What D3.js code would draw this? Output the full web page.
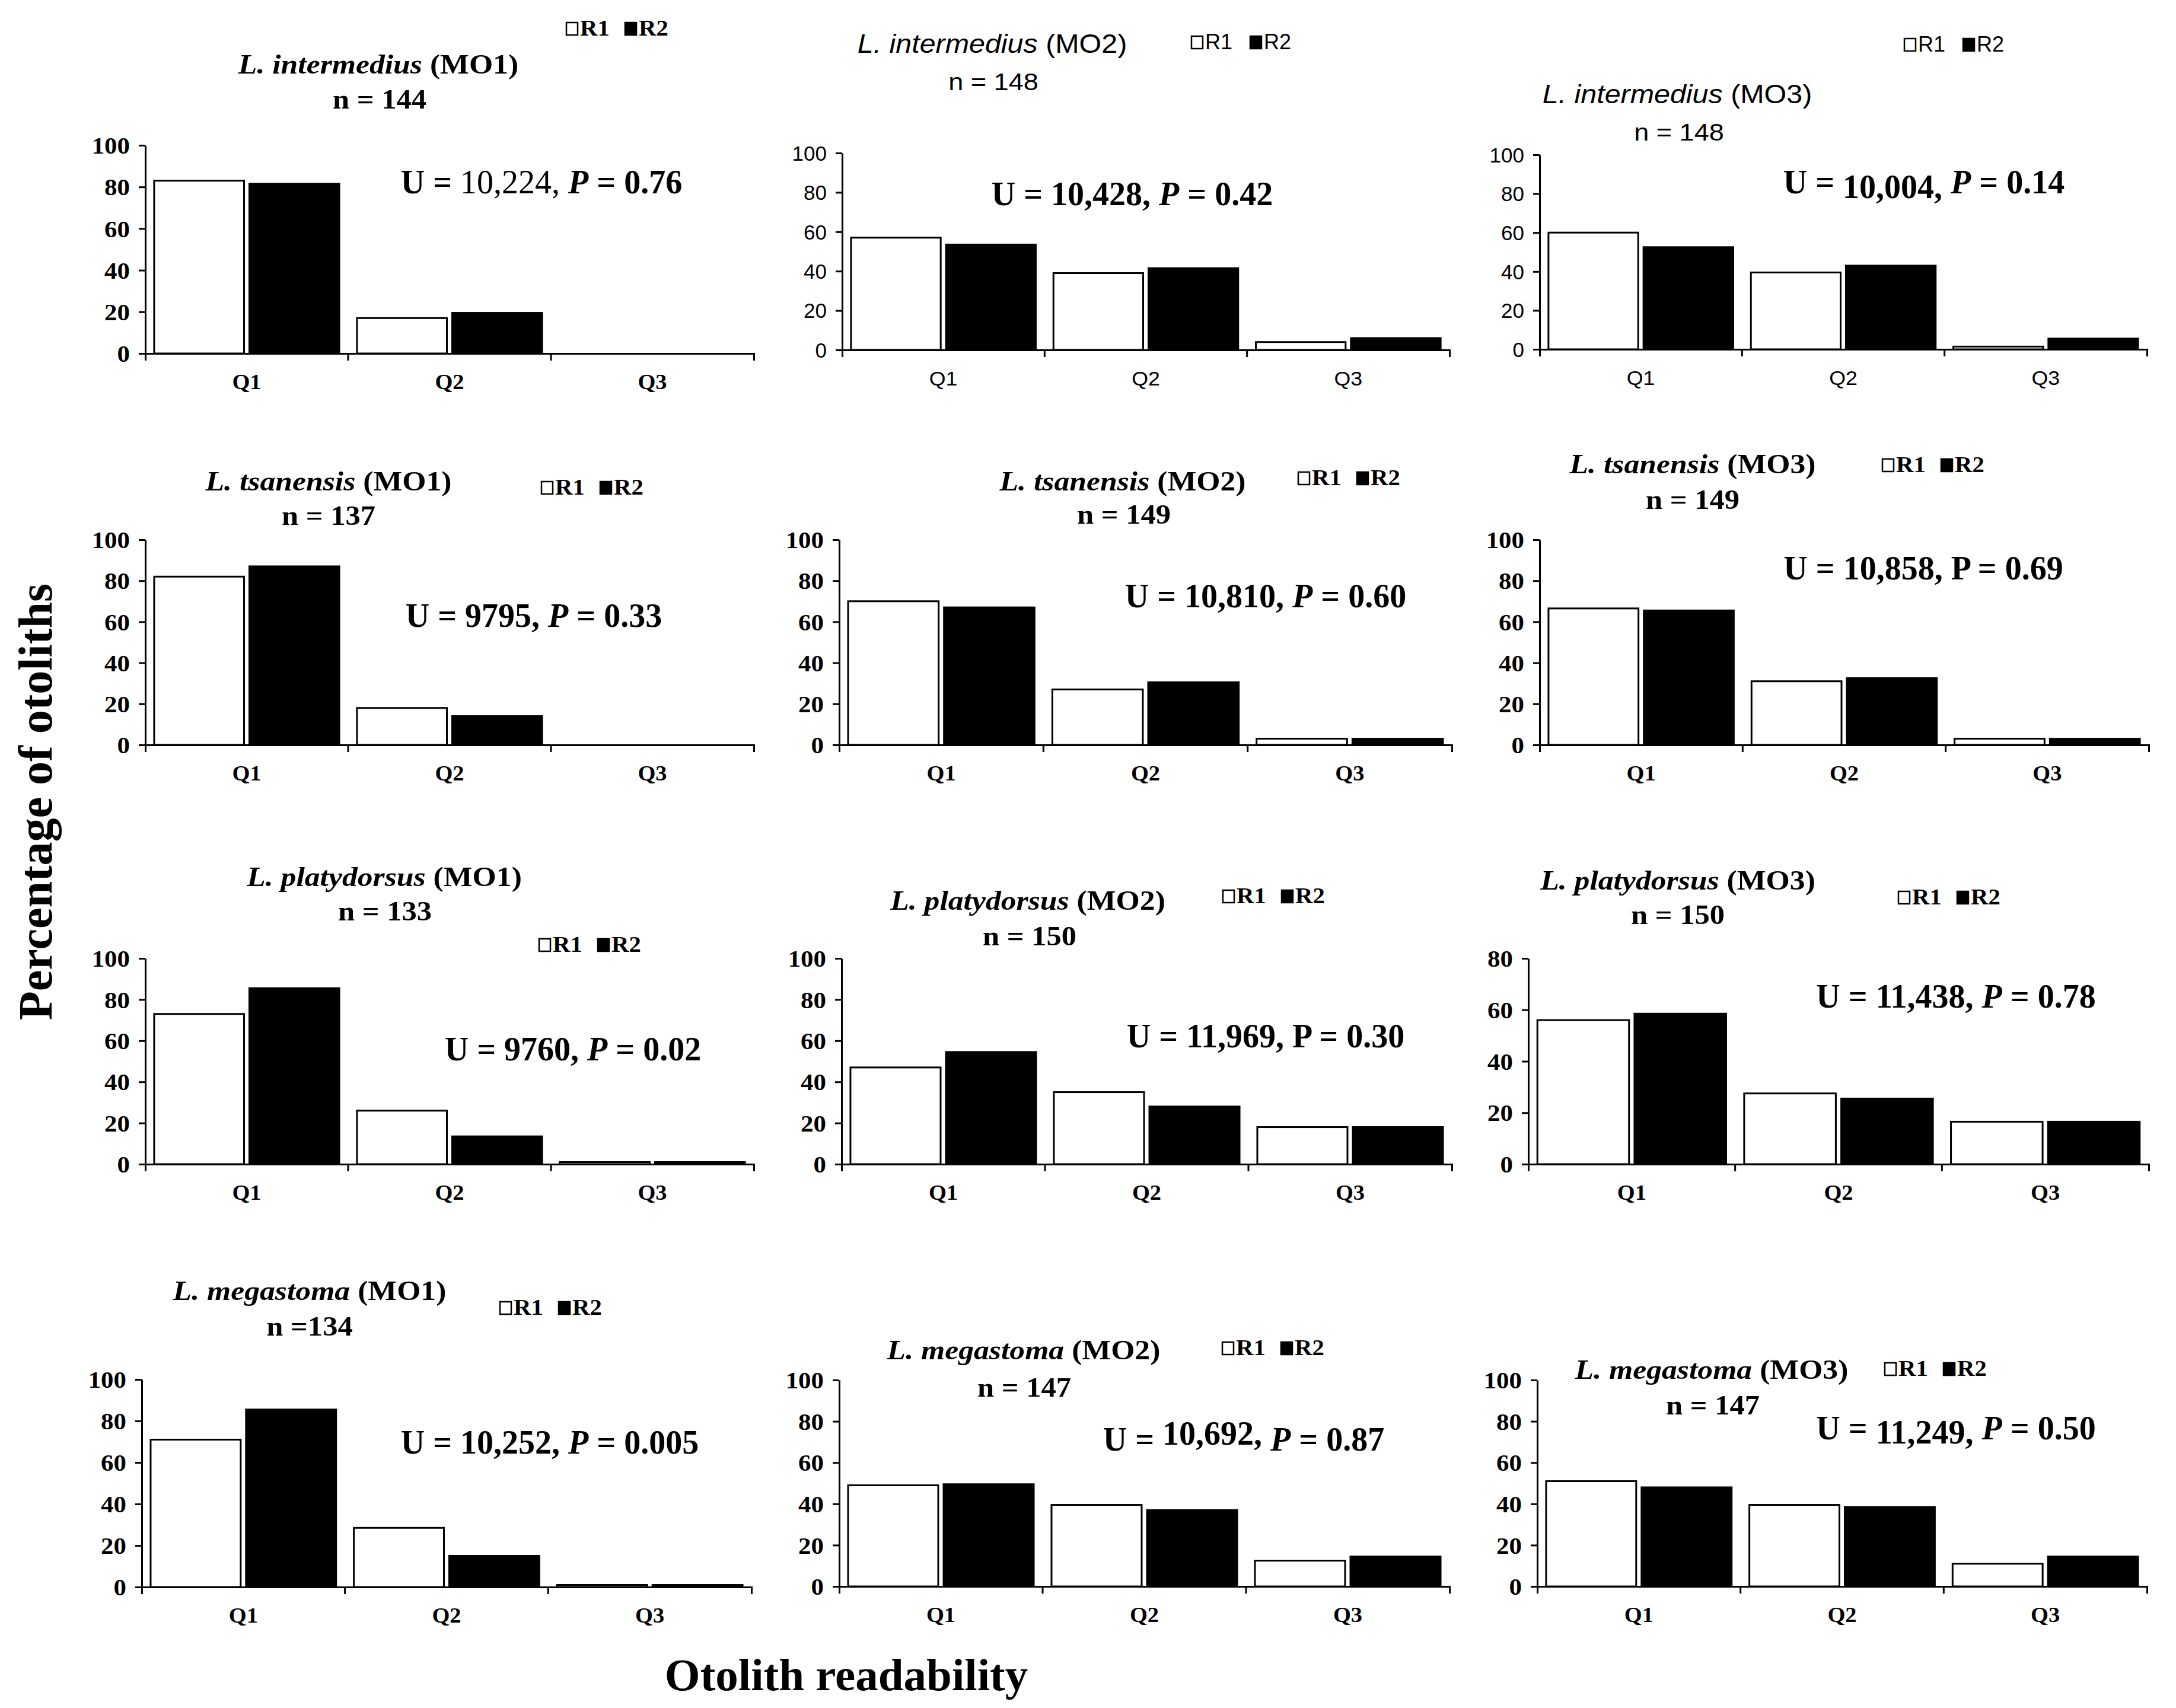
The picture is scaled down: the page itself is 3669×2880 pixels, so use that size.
<!DOCTYPE html>
<html>
<head>
<meta charset="utf-8">
<script src="https://cdn.jsdelivr.net/npm/d3@7/dist/d3.min.js"></script>
<style>
  body { margin: 0; background: #fff; }
</style>
</head>
<body>
<script>
const W = 3669, H = 2880;

// ---- data ----
const categories = ["Q1", "Q2", "Q3"];
const series = ["R1", "R2"];
const species = ["L. intermedius", "L. intermedius", "L. intermedius",
                 "L. tsanensis", "L. tsanensis", "L. tsanensis",
                 "L. platydorsus", "L. platydorsus", "L. platydorsus",
                 "L. megastoma", "L. megastoma", "L. megastoma"];
const methods = ["MO1", "MO2", "MO3", "MO1", "MO2", "MO3",
                 "MO1", "MO2", "MO3", "MO1", "MO2", "MO3"];
const nLabels = ["n = 144", "n = 148", "n = 148", "n = 137", "n = 149", "n = 149",
                 "n = 133", "n = 150", "n = 150", "n =134", "n = 147", "n = 147"];
const r1Values = [
  [83, 17, 0], [57, 39, 4], [60, 39.5, 1.4],
  [82, 18, 0], [70, 27, 3], [66.5, 31, 3],
  [73, 26, 1], [47, 35, 18], [56, 27.5, 16.5],
  [71, 28.5, 1], [49, 39.5, 12.5], [51, 39.5, 11]
];
const r2Values = [
  [81.5, 19.5, 0], [53.5, 41.5, 6], [52.5, 43, 5.5],
  [87, 14, 0], [67, 30.5, 3], [65.5, 32.5, 3],
  [85.5, 13.5, 1], [54.5, 28, 18], [58.5, 25.5, 16.5],
  [85.5, 15, 1], [49.5, 37, 14.5], [48, 38.5, 14.5]
];
const uValues = ["10,224", "10,428", "10,004", "9795", "10,810", "10,858",
                 "9760", "11,969", "11,438", "10,252", "10,692", "11,249"];
const pValues = ["0.76", "0.42", "0.14", "0.33", "0.60", "0.69",
                 "0.02", "0.30", "0.78", "0.005", "0.87", "0.50"];
const yMaxes = [100, 100, 100, 100, 100, 100, 100, 100, 80, 100, 100, 100];
const yTickStep = 20;

// ---- layout (pixels) ----
const frames = [
  {x0: 245, x1: 1271, top: 245, base: 596, tx: 638, ty: 124, nx: 640, ny: 183, lx: 954, ly: 60, ax: 913, ay: 326, sans: false, uBold: false},
  {x0: 1420, x1: 2444, top: 258, base: 590, tx: 1673, ty: 89, nx: 1675, ny: 152, lx: 2008, ly: 83, ax: 1909, ay: 346, sans: true},
  {x0: 2596, x1: 3620, top: 261, base: 589, tx: 2828, ty: 174, nx: 2831, ny: 237, lx: 3210, ly: 87, ax: 3244, ay: 326, sans: true, uDy: 8},
  {x0: 245, x1: 1271, top: 910, base: 1256, tx: 554, ty: 827, nx: 554, ny: 885, lx: 912, ly: 834, ax: 900, ay: 1057},
  {x0: 1415, x1: 2448, top: 910, base: 1256, tx: 1893, ty: 827, nx: 1895, ny: 883, lx: 2188, ly: 818, ax: 2134, ay: 1024},
  {x0: 2596, x1: 3623, top: 910, base: 1256, tx: 2854, ty: 798, nx: 2854, ny: 858, lx: 3173, ly: 796, ax: 3243, ay: 977, pUpright: true},
  {x0: 245, x1: 1271, top: 1616, base: 1963, tx: 648, ty: 1494, nx: 649, ny: 1552, lx: 908, ly: 1605, ax: 966, ay: 1788},
  {x0: 1419, x1: 2448, top: 1616, base: 1963, tx: 1733, ty: 1534, nx: 1736, ny: 1594, lx: 2061, ly: 1523, ax: 2134, ay: 1766, pUpright: true},
  {x0: 2577, x1: 3623, top: 1616, base: 1963, tx: 2829, ty: 1500, nx: 2829, ny: 1558, lx: 3200, ly: 1525, ax: 3298, ay: 1699},
  {x0: 239, x1: 1267, top: 2326, base: 2676, tx: 522, ty: 2192, nx: 522, ny: 2252, lx: 842, ly: 2217, ax: 927, ay: 2451},
  {x0: 1415, x1: 2444, top: 2327, base: 2675, tx: 1726, ty: 2292, nx: 1727, ny: 2355, lx: 2060, ly: 2285, ax: 2097, ay: 2446, uDy: -10},
  {x0: 2592, x1: 3620, top: 2327, base: 2675, tx: 2886, ty: 2325, nx: 2888, ny: 2385, lx: 3177, ly: 2320, ax: 3298, ay: 2427, uDy: 7}
];

const SERIF = "'Liberation Serif', 'Times New Roman', serif";
const SANS = "'Liberation Sans', Arial, sans-serif";
const SX = 1.1;   // panel text is a little wider than normal in the original

// per font kind: [font size, horizontal stretch] for each text role
const TXT = {
  serif: {title: [47, SX], n: [46, SX], tick: [39, SX], cat: [35, SX], legend: [37, SX]},
  sans:  {title: [44, SX], n: [41, SX], tick: [35, 1.0], cat: [34, 1.05], legend: [36, 1.0]}
};

const svg = d3.select("body").append("svg")
  .attr("width", W).attr("height", H)
  .style("background", "#fff");

function stretched(g, x, y, sx, anchor) {
  return g.append("text")
    .attr("transform", `translate(${x},${y}) scale(${sx},1)`)
    .attr("text-anchor", anchor);
}

frames.forEach((f, i) => {
  const g = svg.append("g").attr("class", "panel");
  const font = f.sans ? SANS : SERIF;
  const weight = f.sans ? "normal" : "bold";
  const st = f.sans ? TXT.sans : TXT.serif;

  const x = d3.scaleBand().domain(categories).range([f.x0, f.x1]);
  const xs = d3.scaleBand().domain(series).range([0, x.bandwidth()])
    .paddingInner(0.056).paddingOuter(0.093);
  const y = d3.scaleLinear().domain([0, yMaxes[i]]).range([f.base, f.top]);

  const rows = categories.map((c, k) => ({c, vals: [
    {s: "R1", v: r1Values[i][k]}, {s: "R2", v: r2Values[i][k]}
  ]}));

  // bars
  g.append("g").selectAll("g").data(rows).join("g")
    .attr("transform", d => `translate(${x(d.c)},0)`)
    .selectAll("rect").data(d => d.vals.filter(v => v.v > 0)).join("rect")
      .attr("x", d => xs(d.s))
      .attr("width", xs.bandwidth())
      .attr("y", d => y(d.v))
      .attr("height", d => y(0) - y(d.v))
      .attr("fill", d => d.s === "R1" ? "#fff" : "#000")
      .attr("stroke", "#000")
      .attr("stroke-width", 3);

  // y axis
  const yAxis = g.append("g")
    .attr("transform", `translate(${f.x0},0)`)
    .call(d3.axisLeft(y).tickValues(d3.range(0, yMaxes[i] + 1, yTickStep)).tickSizeInner(11).tickSizeOuter(0));
  yAxis.select(".domain").attr("stroke-width", 3);
  yAxis.selectAll(".tick line").attr("stroke-width", 3);
  yAxis.selectAll(".tick text")
    .attr("x", null).attr("dy", "0.35em")
    .attr("transform", `translate(-26,0) scale(${st.tick[1]},1)`)
    .attr("font-family", font).attr("font-weight", weight)
    .attr("font-size", st.tick[0]).attr("fill", "#000");

  // x axis
  const xAxis = g.append("g")
    .attr("transform", `translate(0,${f.base})`)
    .call(d3.axisBottom(x).tickSizeInner(0).tickSizeOuter(12));
  xAxis.select(".domain").attr("stroke-width", 3);
  xAxis.selectAll(".tick text")
    .attr("y", null).attr("dy", null)
    .attr("transform", `translate(0,60) scale(${st.cat[1]},1)`)
    .attr("font-family", font).attr("font-weight", weight)
    .attr("font-size", st.cat[0]).attr("fill", "#000");
  xAxis.selectAll(".inner").data(categories.slice(1)).join("line")
    .attr("x1", d => x(d)).attr("x2", d => x(d))
    .attr("y1", 0).attr("y2", 12)
    .attr("stroke", "#000").attr("stroke-width", 3);

  // title
  const t = stretched(g, f.tx, f.ty, st.title[1], "middle")
    .attr("font-family", font).attr("font-weight", weight)
    .attr("font-size", st.title[0]);
  t.append("tspan").attr("font-style", "italic").text(species[i]);
  t.append("tspan").text(` (${methods[i]})`);
  stretched(g, f.nx, f.ny, st.n[1], "middle")
    .attr("font-family", font).attr("font-weight", weight)
    .attr("font-size", st.n[0])
    .text(nLabels[i]);

  // legend
  const lg = g.append("g").attr("transform", `translate(${f.lx},${f.ly})`);
  series.forEach((s, k) => {
    const ox = k * 99;
    lg.append("rect").attr("x", ox + 1).attr("y", -22).attr("width", 19).attr("height", 21)
      .attr("fill", s === "R1" ? "#fff" : "#000").attr("stroke", "#000").attr("stroke-width", 2.5);
    stretched(lg, ox + 24, 0, st.legend[1], "start")
      .attr("font-family", font).attr("font-weight", weight)
      .attr("font-size", st.legend[0]).text(s);
  });

  // Mann-Whitney annotation
  const a = g.append("text")
    .attr("x", f.ax).attr("y", f.ay).attr("text-anchor", "middle")
    .attr("font-family", SERIF).attr("font-weight", "bold").attr("font-size", 56);
  a.append("tspan").text("U = ");
  a.append("tspan").attr("font-weight", f.uBold === false ? "normal" : "bold")
    .attr("dy", f.uDy || 0).text(uValues[i] + ",");
  a.append("tspan").attr("dy", -(f.uDy || 0)).text(" ");
  a.append("tspan").attr("font-style", f.pUpright ? "normal" : "italic").text("P");
  a.append("tspan").text(" = " + pValues[i]);
});

// axis titles
svg.append("text")
  .attr("transform", "translate(87,1352) rotate(-90)")
  .attr("text-anchor", "middle")
  .attr("font-family", SERIF).attr("font-weight", "bold").attr("font-size", 80)
  .text("Percentage of otoliths");

svg.append("text")
  .attr("x", 1427).attr("y", 2850)
  .attr("text-anchor", "middle")
  .attr("font-family", SERIF).attr("font-weight", "bold").attr("font-size", 77)
  .text("Otolith readability");
</script>
</body>
</html>
